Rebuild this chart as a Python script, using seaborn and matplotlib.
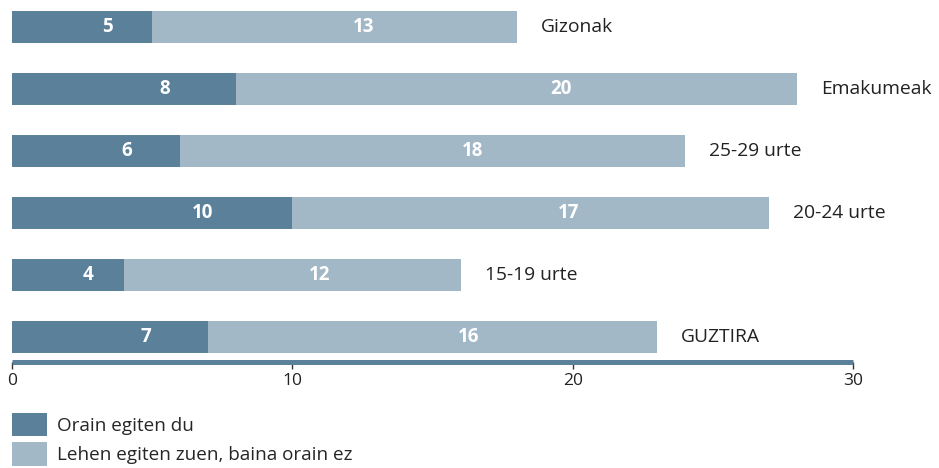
import matplotlib.pyplot as plt
import pandas as pd
import seaborn as sns
from matplotlib.patches import Patch

# Data
categories = ['Gizonak', 'Emakumeak', '25-29 urte', '20-24 urte', '15-19 urte', 'GUZTIRA']
orain = [5, 8, 6, 10, 4, 7]
lehen = [13, 20, 18, 17, 12, 16]
legend_labels = ['Orain egiten du', 'Lehen egiten zuen, baina orain ez']

dark = '#5a809a'
light = '#a2b8c6'

df = pd.DataFrame({'cat': categories, 'orain': orain, 'lehen': lehen})
df['total'] = df['orain'] + df['lehen']

sns.set_style('white')
plt.rcParams['font.family'] = ['Open Sans', 'DejaVu Sans']

fig = plt.figure(figsize=(9.39, 4.68), dpi=100)
ax = fig.add_axes([12 / 939, 106 / 468, 841 / 939, 362 / 468])

# stacked: total bar underneath, dark part on top
sns.barplot(ax=ax, data=df, x='total', y='cat', color=light, width=0.52,
            saturation=1, order=categories, linewidth=0)
sns.barplot(ax=ax, data=df, x='orain', y='cat', color=dark, width=0.52,
            saturation=1, order=categories, linewidth=0)

# value labels sit a bit right of the segment middle, as in the original
for i, row in df.iterrows():
    ax.text(row['orain'] * 0.68, i, str(row['orain']), color='white', fontsize=13.5,
            fontweight='bold', ha='center', va='center')
    ax.text(row['orain'] + row['lehen'] * 0.58, i, str(row['lehen']), color='white',
            fontsize=13.5, fontweight='bold', ha='center', va='center')
    ax.text(row['total'] + 0.87, i, row['cat'], color='#222222', fontsize=13.9,
            ha='left', va='center')

ax.set_xlim(0, 30)
ax.set_ylim(5.403, -0.435)
ax.set_xticks([0, 10, 20, 30])
ax.set_yticks([])
ax.set_xlabel('')
ax.set_ylabel('')
for s in ['top', 'right', 'left']:
    ax.spines[s].set_visible(False)
ax.spines['bottom'].set_color(dark)
ax.spines['bottom'].set_linewidth(3.6)
ax.spines['bottom'].set_capstyle('butt')
ax.tick_params(axis='x', bottom=True, length=5, width=1, color='#333333',
               labelsize=12.5, labelcolor='#222222', pad=3, direction='out')

handles = [Patch(facecolor=dark, edgecolor='none'), Patch(facecolor=light, edgecolor='none')]
fig.legend(handles, legend_labels, loc='upper left', bbox_to_anchor=(12 / 939, 0.118),
           frameon=False, fontsize=13.6, handlelength=1.84, handleheight=1.55,
           handletextpad=0.55, labelspacing=0.3, borderaxespad=0, borderpad=0)

fig.savefig('out.png', dpi=100)
